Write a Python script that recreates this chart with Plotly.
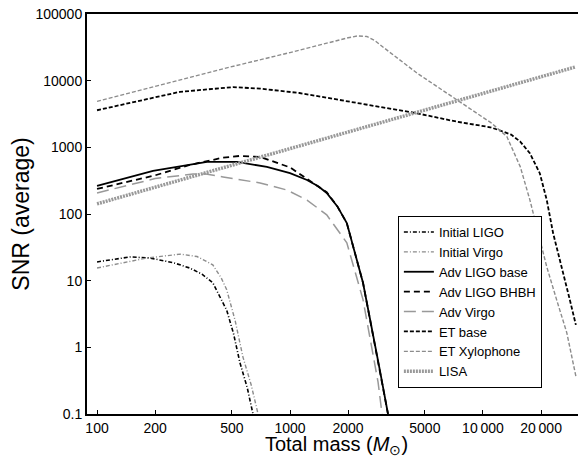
import plotly.graph_objects as go

# ---- data ----
iligo_m = [100, 148, 188, 250, 302, 350, 398, 430, 470, 510, 550, 600, 643]
iligo_s = [19.1, 22.7, 21.9, 18.5, 15.5, 12.5, 9.3, 6.0, 3.6, 1.6, 0.59, 0.25, 0.1]

ivirgo_m = [100, 182, 270, 330, 398, 440, 470, 520, 570, 630, 683]
ivirgo_s = [15.5, 21.9, 25.0, 23.0, 17.3, 11.0, 7.3, 2.5, 0.72, 0.27, 0.1]

aligo_m = [100, 195, 371, 531, 759, 1000, 1225, 1400, 1550, 1760, 1970, 2390, 2920, 3220]
aligo_s = [264, 443, 604, 604, 508, 410, 324, 260, 207, 130, 73, 9.3, 0.46, 0.1]

abhbh_m = [100, 200, 302, 450, 550, 700, 1000, 1320, 1550, 1760, 1970, 2390, 2920, 3220]
abhbh_s = [238, 380, 545, 700, 743, 718, 500, 292, 212, 130, 73, 9.3, 0.46, 0.1]

avirgo_m = [100, 200, 314, 360, 450, 700, 964, 1225, 1550, 1970, 2390, 2860, 3000]
avirgo_s = [207, 340, 398, 400, 360, 292, 229, 162, 97, 37, 5.2, 0.3, 0.1]

etb_m = [100, 200, 269, 507, 700, 1120, 2000, 2920, 4550, 7300, 10900, 12200, 14000, 15600,
         17500, 19700, 21400, 23100, 25600, 28200, 30300]
etb_s = [3600, 5700, 6800, 8000, 7600, 6530, 4900, 4000, 3240, 2430, 2000, 1800, 1550, 1220,
         815, 409, 163, 51.5, 16.2, 5.15, 2.17]

etx_m = [100, 489, 1000, 1600, 2000, 2250, 2500, 2750, 3030, 4550, 7330, 11100, 13300, 15600,
         17500, 19400, 21400, 24100, 27200, 30300]
etx_s = [4900, 16000, 26400, 38000, 44000, 47000, 46000, 40000, 32000, 13000, 5130, 2300, 1450,
         514, 163, 52, 16.2, 5.15, 1.65, 0.37]

lisa_m = [100, 30000]
lisa_s = [142, 16000]

x_ticks = [100, 200, 500, 1000, 2000, 5000, 10000, 20000]
x_labels = ["100", "200", "500", "1000", "2000", "5000", "10\u2009000", "20\u2009000"]
y_ticks = [0.1, 1, 10, 100, 1000, 10000, 100000]
y_labels = ["0.1", "1", "10", "100", "1000", "10000", "100000"]

series = [
    ("Initial LIGO", iligo_m, iligo_s, "black", "4px,2px,1px,2px", 1.6),
    ("Initial Virgo", ivirgo_m, ivirgo_s, "#8c8c8c", "4px,2px,1px,2px", 1.4),
    ("Adv LIGO base", aligo_m, aligo_s, "black", "solid", 1.8),
    ("Adv LIGO BHBH", abhbh_m, abhbh_s, "black", "6px,4px", 1.8),
    ("Adv Virgo", avirgo_m, avirgo_s, "#999999", "12px,6px", 1.5),
    ("ET base", etb_m, etb_s, "black", "4px,2px", 1.8),
    ("ET Xylophone", etx_m, etx_s, "#8c8c8c", "4px,2px", 1.4),
    ("LISA", lisa_m, lisa_s, "#999999", "2px,1px", 3.5),
]

fig = go.Figure()
for name, m, s, col, dash, w in series:
    fig.add_trace(go.Scatter(x=m, y=s, mode="lines", name=name,
                             line=dict(color=col, dash=dash, width=w)))

font = "Liberation Sans, Arial, sans-serif"
# page body has an 8px default margin, so the figure is 8px smaller and margins shifted
fig.update_layout(
    width=578, height=450,
    margin=dict(l=79, r=0, t=6, b=44),
    plot_bgcolor="white", paper_bgcolor="white",
    font=dict(family=font, color="black", size=14),
    showlegend=True,
    legend=dict(x=0.623, y=0.065, xanchor="left", yanchor="bottom",
                bordercolor="black", borderwidth=1, bgcolor="white",
                font=dict(size=13, family=font), tracegroupgap=0,
                itemwidth=30),
    xaxis=dict(type="log", range=[1.948, 4.534], tickvals=x_ticks, ticktext=x_labels,
               ticks="inside", ticklen=4, tickwidth=1, tickcolor="black",
               showline=True, linecolor="black", linewidth=2, mirror=True,
               showgrid=False, zeroline=False, automargin=False,
               title=dict(text="Total mass (<i>M</i><sub>\u2299</sub>)", font=dict(size=20), standoff=4),
               tickfont=dict(size=14)),
    yaxis=dict(type="log", range=[-1, 5], tickvals=y_ticks, ticktext=y_labels,
               ticks="inside", ticklen=4, tickwidth=1, tickcolor="black",
               showline=True, linecolor="black", linewidth=2, mirror=False,
               showgrid=False, zeroline=False, automargin=False,
               ticklabeloverflow="allow",
               title=dict(text="SNR (average)", font=dict(size=23), standoff=14),
               tickfont=dict(size=14)),
)

fig.write_html("out.html")
